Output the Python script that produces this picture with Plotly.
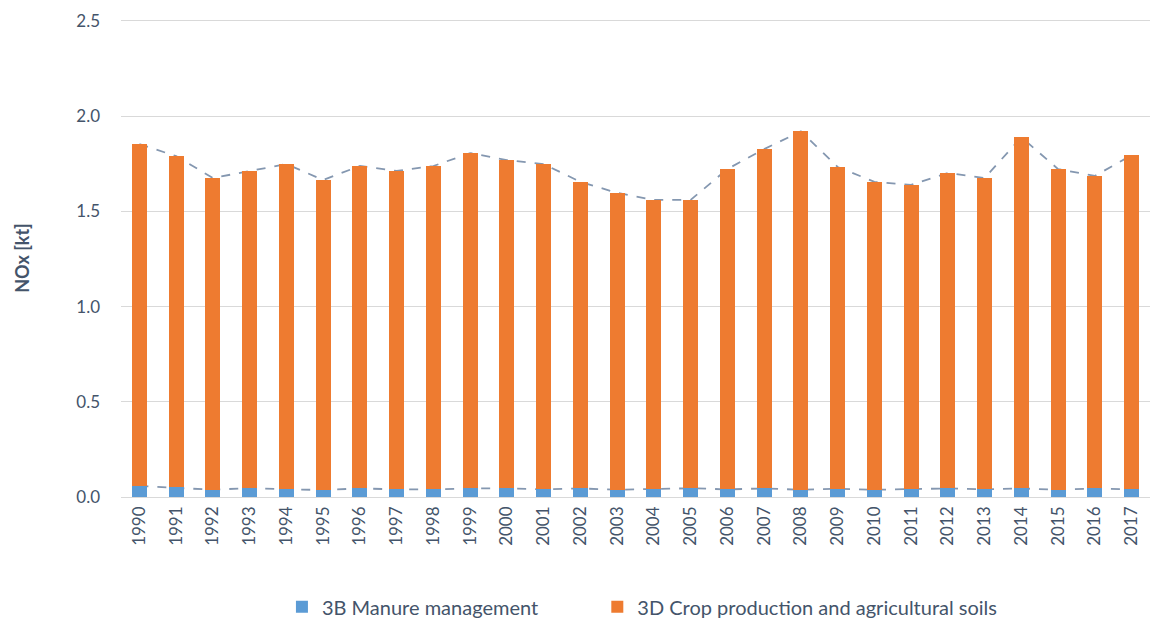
import plotly.graph_objects as go

years = [str(y) for y in range(1990, 2018)]

manure_3b = [0.058, 0.050, 0.038, 0.047, 0.040, 0.037, 0.045, 0.040, 0.040, 0.045,
             0.045, 0.040, 0.045, 0.038, 0.042, 0.046, 0.040, 0.045, 0.038, 0.043,
             0.038, 0.043, 0.045, 0.040, 0.045, 0.038, 0.045, 0.040]

crop_3d = [1.795, 1.740, 1.637, 1.665, 1.708, 1.628, 1.693, 1.672, 1.698, 1.761,
           1.724, 1.708, 1.610, 1.559, 1.518, 1.514, 1.682, 1.782, 1.882, 1.690,
           1.617, 1.596, 1.656, 1.635, 1.844, 1.684, 1.641, 1.755]

total = [1.853, 1.790, 1.675, 1.712, 1.748, 1.665, 1.738, 1.712, 1.738, 1.806,
         1.769, 1.748, 1.655, 1.597, 1.560, 1.560, 1.722, 1.827, 1.920, 1.733,
         1.655, 1.639, 1.701, 1.675, 1.889, 1.722, 1.686, 1.795]

y_ticks = [0.0, 0.5, 1.0, 1.5, 2.0, 2.5]
y_tick_text = ["0.0", "0.5", "1.0", "1.5", "2.0", "2.5"]

FONT = "Lato"
TXT = "#44546A"
LINE = "#8497B0"
XR = [-0.5, len(years) - 0.5]
YR = [0, 2.51]

fig = go.Figure()

# dashed lines (drawn underneath bars)
fig.add_trace(go.Scatter(x=years, y=total, mode="lines", showlegend=False,
                         line=dict(color=LINE, width=1.8, dash="dash"),
                         xaxis="x", yaxis="y", hoverinfo="skip"))
fig.add_trace(go.Scatter(x=years, y=manure_3b, mode="lines", showlegend=False,
                         line=dict(color=LINE, width=1.8, dash="dash"),
                         xaxis="x", yaxis="y", hoverinfo="skip"))

# stacked bars on overlay axes (drawn above lines)
fig.add_trace(go.Bar(x=years, y=manure_3b, name="3B Manure management",
                     marker=dict(color="#5B9BD5", line=dict(width=0)),
                     xaxis="x2", yaxis="y2", legend="legend"))
fig.add_trace(go.Bar(x=years, y=crop_3d, name="3D Crop production and agricultural soils",
                     marker=dict(color="#EE7B30", line=dict(width=0)),
                     xaxis="x2", yaxis="y2", legend="legend2"))

leg_common = dict(orientation="h", xref="container", yref="container",
                  yanchor="middle", y=0.031, xanchor="left",
                  font=dict(family=FONT, size=20, color=TXT),
                  itemwidth=30, bgcolor="rgba(0,0,0,0)")

fig.update_layout(
    width=1151, height=618,
    margin=dict(l=113, r=9, t=11, b=129, autoexpand=False),
    paper_bgcolor="white", plot_bgcolor="white",
    barmode="stack", bargap=0.59,
    font=dict(family=FONT, size=17, color=TXT),
    xaxis=dict(type="category", categoryorder="array", categoryarray=years,
               range=XR, tickangle=-90, showgrid=False, zeroline=False, showline=False,
               ticks="", tickfont=dict(family=FONT, size=17, color=TXT),
               ticklabelstandoff=5),
    xaxis2=dict(type="category", categoryorder="array", categoryarray=years,
                range=XR, overlaying="x", showticklabels=False, showgrid=False,
                zeroline=False, showline=False, ticks=""),
    yaxis=dict(range=YR, tickvals=y_ticks, ticktext=y_tick_text,
               showgrid=True, gridcolor="#D9D9D9", gridwidth=1,
               zeroline=True, zerolinecolor="#D9D9D9", zerolinewidth=1,
               showline=False, ticks="", tickfont=dict(family=FONT, size=17, color=TXT),
               ticklabelstandoff=20, ticklabeloverflow="allow",
               title=dict(text="<b>NOx [kt]</b>", standoff=41,
                          font=dict(family=FONT, size=18, color=TXT))),
    yaxis2=dict(range=YR, overlaying="y", showticklabels=False,
                showgrid=False, zeroline=False, showline=False, ticks=""),
    legend=dict(x=0.238, **leg_common),
    legend2=dict(x=0.512, **leg_common),
)

fig.write_html("out.html")
